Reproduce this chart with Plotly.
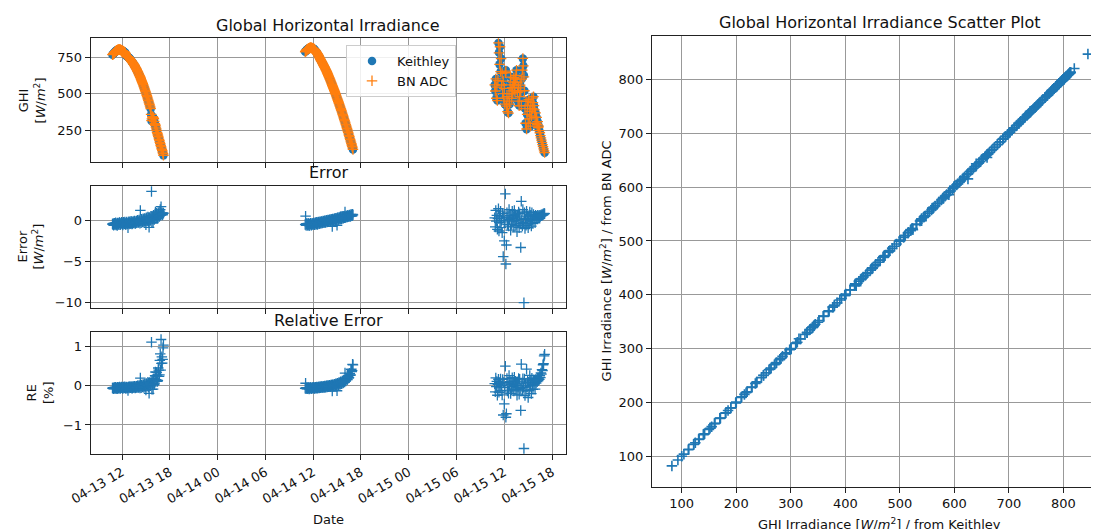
import pandas as pd
import plotly.graph_objects as go

# ---------------- data ----------------
day1_start, day1_step = "2023-04-13 10:48", "3min"
day2_start, day2_step = "2023-04-14 11:00", "3min"
day3_start, day3_step = "2023-04-15 10:48", "4min"

ghi_keithley_day1 = [766, 768, 771, 774, 777, 780, 783, 786, 789, 792,
                     794, 796, 797, 798, 799, 800, 800, 801, 800, 800,
                     799, 798, 797, 795, 794, 792, 791, 789, 787, 785,
                     783, 781, 778, 770, 762, 758, 755, 753, 752, 750,
                     748, 745, 742, 739, 736, 733, 729, 726, 722, 718,
                     714, 710, 706, 702, 698, 694, 689, 684, 679, 674,
                     669, 664, 658, 653, 647, 641, 635, 629, 623, 617,
                     610, 604, 597, 590, 583, 576, 569, 562, 554, 547,
                     539, 531, 523, 515, 507, 499, 490, 482, 473, 464,
                     455, 446, 437, 428, 418, 409, 399, 360, 315, 330,
                     345, 342, 340, 335, 330, 312, 298, 292, 285, 274,
                     262, 250, 238, 229, 220, 210, 200, 190, 181, 170,
                     160, 150, 140, 131, 122, 113, 104, 93, 82]
error_day1 = [-0.45, -0.50, -0.38, -0.60, -0.55, -0.35, -0.42, -0.48, -0.30, -0.58,
              -0.50, -0.40, -0.62, -0.33, -0.35, -0.52, -0.44, -0.30, -0.28, -0.55,
              -0.52, -0.36, -0.40, -0.25, -0.33, -0.48, -0.58, -0.30, -0.25, -0.45,
              -0.41, -0.20, -0.36, -0.50, -0.47, -0.28, -0.22, -0.42, -0.38, -0.90,
              -0.30, -0.18, -0.44, -0.26, -0.18, -0.38, -0.35, -0.12, -0.27, -0.45,
              -0.40, -0.20, -0.15, -0.32, -0.30, -0.08, -0.20, -0.40, -0.36, -0.14,
              -0.10, -0.30, -0.25, 0.00, -0.05, -0.28, -0.22, 0.05, -0.12, -0.35,
              1.20, -0.05, -0.30, 0.12, 0.05, -0.20, -0.15, 0.18, 0.10, -0.25,
              -0.08, 0.22, 0.15, -0.10, -0.55, 0.30, 0.20, -0.05, 0.02, 0.40,
              0.30, -0.15, -0.85, 0.35, 0.25, 0.00, 0.10, 0.50, 3.50, -0.30,
              0.45, 0.15, -0.30, 0.60, 0.55, 0.10, 0.20, 0.75, 1.00, 0.30,
              0.40, 0.85, 0.65, 0.25, 0.30, 0.95, 0.80, 0.45, 0.50, 1.10,
              1.30, 0.60, 1.65, 0.75, 0.90, 0.65, 0.70, 0.90, 0.85]

ghi_keithley_day2 = [786, 789, 792, 795, 798, 801, 803, 805, 807, 809,
                     810, 811, 812, 813, 813, 813, 812, 811, 810, 809,
                     808, 806, 804, 801, 798, 795, 791, 787, 783, 779,
                     775, 771, 766, 761, 756, 751, 746, 741, 735, 730,
                     725, 720, 715, 710, 705, 700, 694, 689, 684, 679,
                     673, 668, 662, 657, 651, 645, 638, 632, 625, 619,
                     612, 606, 599, 593, 586, 579, 572, 565, 558, 551,
                     544, 537, 530, 523, 516, 509, 501, 494, 486, 479,
                     471, 464, 456, 449, 441, 433, 425, 417, 409, 401,
                     393, 385, 377, 369, 360, 352, 343, 335, 326, 318,
                     309, 300, 291, 282, 273, 264, 255, 246, 237, 228,
                     218, 209, 199, 190, 180, 171, 161, 152, 142, 132,
                     122]
error_day2 = [-0.50, 0.50, -0.60, -0.40, -0.45, -0.62, -0.55, -0.38, -0.40, -0.58,
              -0.65, -0.45, -0.50, -0.35, -0.42, -0.60, -0.58, -0.40, -0.38, -0.52,
              -0.48, -0.32, -0.35, -0.55, -0.52, -0.30, -0.30, -0.48, -0.45, -0.25,
              -0.28, -0.50, -0.40, -0.22, -0.25, -0.42, -0.38, -0.18, -0.20, -0.36,
              -0.34, -0.15, -0.18, -0.32, -0.28, -0.10, -0.12, -0.30, -0.25, -0.05,
              -0.10, -0.26, -0.20, 0.00, -0.05, -0.22, -0.18, 0.05, 0.00, -0.15,
              -0.12, 0.08, 0.05, -0.10, -0.08, 0.12, 0.10, -0.05, -0.75, 0.15,
              0.12, -0.02, 0.00, 0.20, 0.18, 0.05, 0.05, 0.25, 0.22, 0.08,
              -0.60, 0.30, 0.28, 0.12, 0.10, 0.35, 0.30, 0.15, 0.18, 0.40,
              0.35, 0.20, 0.22, 0.45, 0.40, 0.25, 0.28, 0.50, 0.45, 0.30,
              1.00, 0.38, 0.35, 0.55, 0.48, 0.42, 0.40, 0.60, 0.55, 0.45,
              0.45, 0.65, 0.62, 0.50, 0.50, 0.70, 0.68, 0.55, 0.55, 0.72,
              0.65]

ghi_keithley_day3 = [560, 520, 600, 470, 545, 455, 590, 845, 780, 700,
                     820, 650, 740, 560, 640, 500, 590, 470, 540, 430,
                     640, 660, 420, 480, 380, 450, 370, 500, 430, 560,
                     615, 520, 470, 540, 500, 580, 610, 560, 520, 600,
                     625, 660, 580, 510, 450, 540, 420, 480, 560, 524,
                     418, 600, 662, 739, 690, 625, 520, 400, 300, 450,
                     260, 360, 420, 300, 460, 330, 380, 280, 420, 350,
                     470, 400, 440, 480, 420, 390, 340, 370, 300, 340,
                     290, 310, 270, 280, 250, 235, 215, 200, 185, 170,
                     155, 140, 125, 112, 100]
error_day3 = [0.3, -0.8, 1.2, -0.1, 0.6, -1.1, 0.2, 1.4, -1.3, 0.5,
              -0.3, 1.1, -0.9, 0.0, -1.5, 0.8, -4.4, 0.4, -2.5, -0.2,
              3.2, -5.3, -3.0, 0.9, -0.5, 0.3, -0.7, 1.3, 0.1, 0.6,
              -1.2, 0.2, -0.5, 1.1, -0.1, 0.4, -0.8, 1.2, 0.0, 0.7,
              -0.6, 0.3, -1.4, 0.5, -0.2, 1.0, -0.9, 0.8, -0.4, -3.3,
              2.3, 0.1, -0.7, 1.3, -0.3, -10.0, 0.9, -1.0, 0.2, -0.6,
              1.1, -0.1, 0.5, -0.9, 0.4, -0.4, 1.0, 0.0, 0.6, -0.7,
              0.9, 0.1, -0.4, 0.7, 0.2, 0.5, -0.3, 0.6, 0.2, 0.5,
              0.3, 0.6, 0.35, 0.55, 0.4, 0.6, 0.45, 0.65, 0.55, 0.7,
              0.6, 0.75, 0.7, 0.85, 0.8]

# ---------------- derived series ----------------
times, ghi_k, err = [], [], []
for start, step, vals, errs in [(day1_start, day1_step, ghi_keithley_day1, error_day1),
                                (day2_start, day2_step, ghi_keithley_day2, error_day2),
                                (day3_start, day3_step, ghi_keithley_day3, error_day3)]:
    m = min(len(vals), len(errs))
    times += list(pd.date_range(start, periods=m, freq=step))
    ghi_k += vals[:m]
    err += errs[:m]
ghi_bn = [k + e for k, e in zip(ghi_k, err)]
rel_err = [e / k * 100 for k, e in zip(ghi_k, err)]

BLUE, ORANGE = "#1f77b4", "#ff7f0e"
FONT = "DejaVu Sans"
W, H = 1099, 529
OFF = 8  # page body margin shifts the figure by 8 px

def px_x(p): return (p - OFF) / W
def px_y(p): return 1 - (p - OFF) / H

cross = lambda c, s=7.5, w=1.3: dict(symbol="cross-thin", size=s, color=c, line=dict(color=c, width=w))

fig = go.Figure()
fig.add_trace(go.Scatter(x=times, y=ghi_k, mode="markers", name="Keithley",
                         marker=dict(symbol="circle", size=8.5, color=BLUE),
                         xaxis="x", yaxis="y"))
fig.add_trace(go.Scatter(x=times, y=ghi_bn, mode="markers", name="BN ADC",
                         marker=cross(ORANGE), xaxis="x", yaxis="y"))
fig.add_trace(go.Scatter(x=times, y=err, mode="markers", showlegend=False,
                         marker=cross(BLUE), xaxis="x2", yaxis="y2"))
fig.add_trace(go.Scatter(x=times, y=rel_err, mode="markers", showlegend=False,
                         marker=cross(BLUE), xaxis="x3", yaxis="y3"))
fig.add_trace(go.Scatter(x=ghi_k, y=ghi_bn, mode="markers", showlegend=False,
                         marker=cross(BLUE, 7.5, 1.6), xaxis="x4", yaxis="y4"))

axis_common = dict(showline=True, linecolor="#222", linewidth=1, mirror=True,
                   ticks="outside", ticklen=5, tickwidth=1, tickcolor="#222",
                   showgrid=True, gridcolor="#999999", gridwidth=1, zeroline=False,
                   automargin=False,
                   tickfont=dict(family=FONT, size=13, color="#111"))

left_dom = [px_x(90.7), px_x(566)]
date_range = ["2023-04-13 08:04", "2023-04-15 19:45"]
date_ticks = dict(type="date", range=date_range, tick0="2023-04-13 00:00",
                  dtick=6 * 3600 * 1000, tickformat="%m-%d %H")

fig.update_layout(
    width=W, height=H, margin=dict(l=0, r=0, t=0, b=0, autoexpand=False),
    paper_bgcolor="white", plot_bgcolor="white",
    font=dict(family=FONT, size=13, color="#111"),
    xaxis=dict(domain=left_dom, anchor="y", showticklabels=False, **date_ticks, **axis_common),
    xaxis2=dict(domain=left_dom, anchor="y2", showticklabels=False, **date_ticks, **axis_common),
    xaxis3=dict(domain=left_dom, anchor="y3", tickangle=-30, **date_ticks, **axis_common),
    yaxis=dict(domain=[px_y(162), px_y(38.3)], anchor="x", range=[37, 877],
               tick0=0, dtick=250, **axis_common),
    yaxis2=dict(domain=[px_y(308), px_y(186)], anchor="x2", range=[-10.64, 4.16],
                tick0=0, dtick=5, **axis_common),
    yaxis3=dict(domain=[px_y(454), px_y(332)], anchor="x3", range=[-1.74, 1.37],
                tick0=0, dtick=1, **axis_common),
    xaxis4=dict(domain=[px_x(652), 1.0], anchor="y4", range=[45.5, 880],
                tick0=0, dtick=100, **axis_common),
    yaxis4=dict(domain=[px_y(486.7), px_y(36)], anchor="x4", range=[44.3, 880],
                tick0=0, dtick=100, **{**axis_common, "mirror": False}),
    legend=dict(x=px_x(346), y=px_y(45), xanchor="left", yanchor="top",
                bgcolor="rgba(255,255,255,0.85)", bordercolor="#cccccc", borderwidth=1,
                itemwidth=40,
                font=dict(family=FONT, size=13, color="#111")),
    showlegend=True,
)

unit = "[<i>W</i>/<i>m</i><sup>2</sup>]"
ann = [
    dict(text="Global Horizontal Irradiance", x=px_x(328.4), y=px_y(26), size=16),
    dict(text="Error", x=px_x(328.4), y=px_y(172), size=16),
    dict(text="Relative Error", x=px_x(328.4), y=px_y(320), size=16),
    dict(text="Global Horizontal Irradiance Scatter Plot", x=px_x(879.5), y=px_y(22), size=16),
    dict(text="Date", x=px_x(328.4), y=px_y(519), size=13),
    dict(text=f"GHI Irradiance {unit} / from Keithley", x=px_x(879.5), y=px_y(524), size=13),
    dict(text=f"GHI<br>{unit}", x=px_x(32.4), y=px_y(100), size=13, angle=-90),
    dict(text=f"Error<br>{unit}", x=px_x(30.5), y=px_y(247), size=13, angle=-90),
    dict(text="RE<br>[%]", x=px_x(40), y=px_y(393), size=13, angle=-90),
    dict(text=f"GHI Irradiance {unit} / from BN ADC", x=px_x(606), y=px_y(261.4), size=13, angle=-90),
]
for a in ann:
    fig.add_annotation(text=a["text"], x=a["x"], y=a["y"], xref="paper", yref="paper",
                       xanchor="center", yanchor="middle", showarrow=False,
                       textangle=a.get("angle", 0),
                       font=dict(family=FONT, size=a["size"], color="#111"))

fig.write_html("out.html")
